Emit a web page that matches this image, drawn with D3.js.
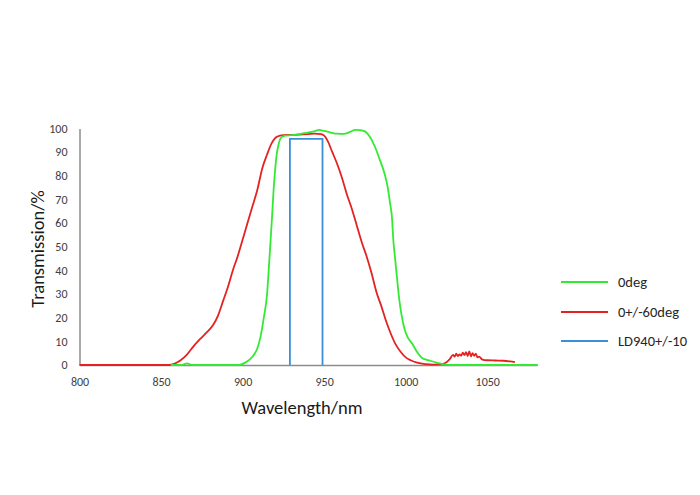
<!DOCTYPE html>
<html>
<head>
<meta charset="utf-8">
<script src="https://cdn.jsdelivr.net/npm/d3@7"></script>
<style>
  html, body { margin: 0; padding: 0; background: #fff; }
  svg { display: block; }
</style>
</head>
<body>
<svg id="chart" width="700" height="495"></svg>
<script>
// ---- data ----
const xTicks = [800, 850, 900, 950, 1000, 1050];
const yTicks = [0, 10, 20, 30, 40, 50, 60, 70, 80, 90, 100];
const seriesNames = ["0deg", "0+/-60deg", "LD940+/-10"];

const green0degX = [856, 862, 864, 866, 868, 870, 898, 902, 906, 909, 911, 913, 915, 916, 917, 918, 919, 920, 921, 922, 923, 925, 930, 935, 940, 944, 947, 950, 954, 958, 962, 966, 969, 972, 975, 978, 981, 984, 987, 989, 990.5, 991.5, 992.5, 993.5, 994.5, 996, 997.5, 999, 1001, 1004, 1007, 1010, 1015, 1020, 1024, 1030, 1081];
const green0degY = [0, 0, 0.3, 0.7, 0.2, 0, 0, 1.2, 3.5, 7, 12, 20, 30, 40, 51, 62, 74, 83, 89.5, 93, 95.5, 96.8, 97.2, 97.6, 98.3, 98.8, 99.4, 99, 98.3, 97.8, 97.7, 98.6, 99.4, 99.3, 98.8, 96.5, 92.5, 87, 81, 75, 68, 63, 52, 45, 38, 28, 21, 16, 12, 9, 5.5, 3, 1.8, 0.8, 0.2, 0, 0];

const red60degX = [800, 855, 858, 862, 866, 870, 874, 878, 882, 885, 888, 891, 894, 897, 900, 903, 906, 909, 912, 915, 918, 921, 925, 930, 935, 940, 944, 948, 950, 952, 955, 958, 961, 964, 967, 970, 973, 976, 979, 982, 985, 988, 991, 994, 997, 1000, 1003, 1007, 1012, 1017, 1022, 1025, 1027, 1029, 1030, 1031, 1032, 1033, 1034, 1035, 1036, 1037, 1038, 1039, 1040, 1041, 1042, 1043, 1044, 1045, 1047, 1050, 1055, 1060, 1064, 1067];
const red60degY = [0, 0, 0.5, 2, 4.5, 8, 11, 13.8, 17, 21, 27, 33, 40, 46, 53, 60, 67, 74, 83, 89, 94, 96.5, 97.2, 97.3, 97.4, 97.6, 97.8, 97.6, 97, 95, 90, 85, 79, 72, 66, 59, 52, 46, 39, 31, 25, 18.5, 13, 8.5, 5.5, 3.2, 2, 1, 0.4, 0.2, 0.4, 1.2, 2.5, 4.3, 3.5, 4.8, 3.8, 4.5, 3.9, 5.2, 4.2, 5.4, 3.8, 5.8, 3.6, 5, 3.9, 4.8, 3.2, 3.5, 2.3, 2.0, 1.9, 1.8, 1.5, 1.2];

const ldBandX = [929, 929, 949, 949];
const ldBandY = [0, 95.6, 95.6, 0];

const seriesColors = ["#33ea33", "#e42222", "#3b8fd9"];

// ---- chart ----
const svg = d3.select("#chart");
const fontFam = "Carlito, Lato, 'Open Sans', sans-serif";

const x = d3.scaleLinear().domain([800, 1080.5]).range([79.5, 537]);
const y = d3.scaleLinear().domain([0, 100]).range([365, 128.5]);

// axes
const xAxis = d3.axisBottom(x).tickValues(xTicks).tickSize(0).tickPadding(12).tickFormat(d3.format("d"));
const yAxis = d3.axisLeft(y).tickValues(yTicks).tickSize(0).tickPadding(12).tickFormat(d3.format("d"));

const gx = svg.append("g").attr("transform", `translate(0,${y(0)})`).call(xAxis);
const gy = svg.append("g").attr("transform", `translate(${x(800)},0)`).call(yAxis);
[gx, gy].forEach(g => {
  g.select(".domain").attr("stroke", "#8c8c8c").attr("stroke-width", 1.5);
  g.selectAll("text").attr("fill", "#404040").style("font-family", fontFam).style("font-size", "12px");
});

// series
const line = d3.line().x(d => x(d[0])).y(d => y(d[1]));
const lineSmooth = d3.line().x(d => x(d[0])).y(d => y(d[1])).curve(d3.curveMonotoneX);

const greenPts = d3.zip(green0degX, green0degY);
const redPts = d3.zip(red60degX, red60degY);
const bluePts = d3.zip(ldBandX, ldBandY);

svg.append("path").attr("d", lineSmooth(redPts)).attr("fill", "none")
  .attr("stroke", seriesColors[1]).attr("stroke-width", 1.8).attr("stroke-linejoin", "round");
svg.append("path").attr("d", lineSmooth(greenPts)).attr("fill", "none")
  .attr("stroke", seriesColors[0]).attr("stroke-width", 1.8).attr("stroke-linejoin", "round");
svg.append("path").attr("d", line(bluePts)).attr("fill", "none")
  .attr("stroke", seriesColors[2]).attr("stroke-width", 1.8);

// axis titles
svg.append("text").attr("x", 302).attr("y", 414).attr("text-anchor", "middle")
  .style("font-family", fontFam).style("font-size", "18.5px").attr("fill", "#1a1a1a")
  .text("Wavelength/nm");
svg.append("text").attr("transform", "translate(44,249) rotate(-90)").attr("text-anchor", "middle")
  .style("font-family", fontFam).style("font-size", "18.5px").attr("fill", "#1a1a1a")
  .text("Transmission/%");

// legend
const legY = [282, 312, 341];
const leg = svg.append("g");
seriesNames.forEach((name, i) => {
  leg.append("line").attr("x1", 561).attr("x2", 608).attr("y1", legY[i]).attr("y2", legY[i])
    .attr("stroke", seriesColors[i]).attr("stroke-width", 1.8);
  leg.append("text").attr("x", 618).attr("y", legY[i]).attr("dy", "0.35em")
    .style("font-family", fontFam).style("font-size", "14.5px").attr("fill", "#262626")
    .text(name);
});
</script>
</body>
</html>
